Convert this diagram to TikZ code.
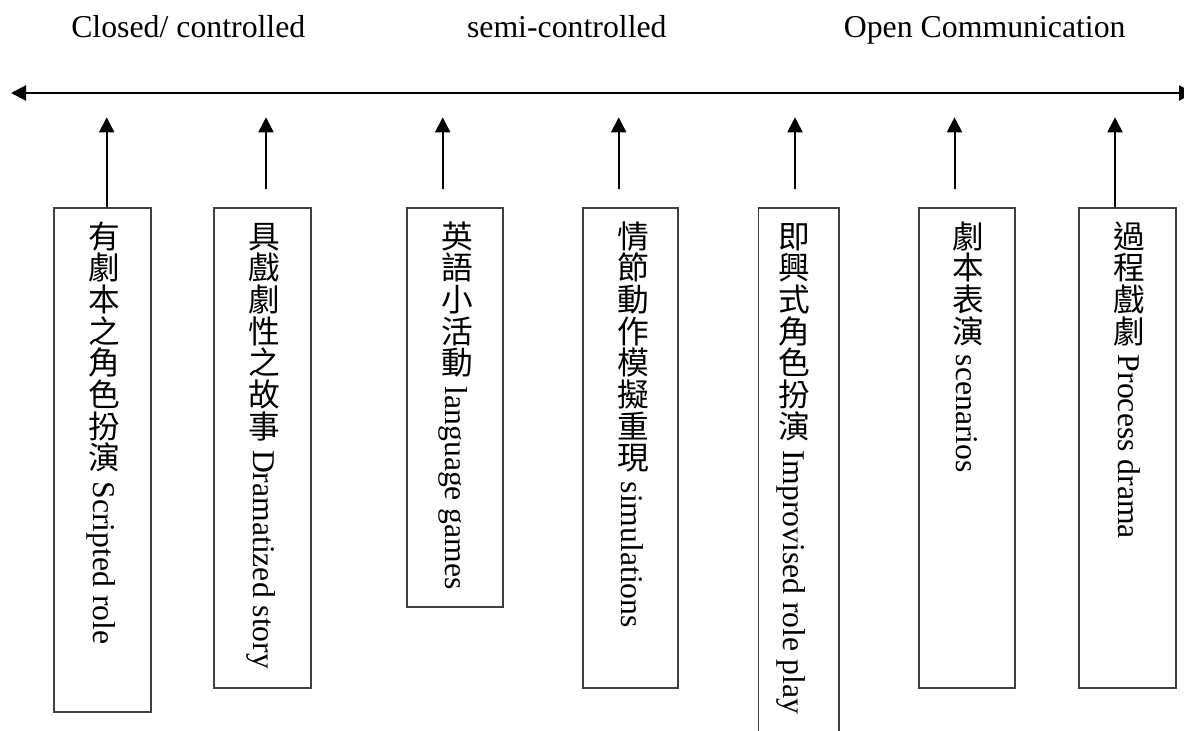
\documentclass[tikz,border=0pt]{standalone}
\usepackage{graphicx}
\usepackage{fontspec}
\setmainfont{Liberation Serif}
\newfontfamily\cjk{Noto Sans CJK TC}
\usetikzlibrary{arrows.meta}
\newcommand\vc[1]{\raisebox{-0.15em}{\rotatebox{90}{\rule[-.12em]{0pt}{1em}\smash{\cjk #1}}}}
\tikzset{
  boxst/.style={draw=black!75, line width=1.8pt, inner sep=0pt, fill=none},
  vtext/.style={rotate=-90, anchor=base west, inner sep=0pt, font=\fontsize{31.7pt}{38pt}\selectfont},
  toplabel/.style={anchor=base, inner sep=0pt, font=\fontsize{31.8pt}{38pt}\selectfont},
  arr/.style={line width=2pt, -{Triangle[length=15pt,width=15pt]}},
  darr/.style={line width=2pt, {Triangle[length=15pt,width=15pt]}-{Triangle[length=15pt,width=15pt]}}
}
\begin{document}
\begin{tikzpicture}[x=1pt,y=-1pt]
\clip (0,0) rectangle (1184,731);
\fill[white] (0,0) rectangle (1184,731);

% top labels
\node[toplabel] (lab1) at (188.3,37.5) {Closed/ controlled};
\node[toplabel] (lab2) at (566.8,37.5) {semi-controlled};
\node[toplabel] (lab3) at (984.7,37.5) {Open Communication};

% main axis
\coordinate (axL) at (11,93);
\coordinate (axR) at (1194,93);
\draw[darr] (axL) -- (axR);

% boxes
\node[boxst, minimum width=96.7pt, minimum height=504.3pt] (b1) at (102.35,460.15) {};
\node[boxst, minimum width=96.4pt, minimum height=480.3pt] (b2) at (262.5,448.15) {};
\node[boxst, minimum width=96pt,   minimum height=399.3pt] (b3) at (454.7,407.65) {};
\node[boxst, minimum width=95.6pt, minimum height=480.3pt] (b4) at (630.5,448.15) {};
\node[boxst, minimum width=80.5pt, minimum height=562pt]   (b5) at (798.75,489) {};
\node[boxst, minimum width=96.3pt, minimum height=480.3pt] (b6) at (967.15,448.15) {};
\node[boxst, minimum width=96.7pt, minimum height=480.3pt] (b7) at (1127.35,448.15) {};

% vertical texts
\node[vtext] (l1) at (93.6,220) {\vc{有}\vc{劇}\vc{本}\vc{之}\vc{角}\vc{色}\vc{扮}\vc{演} Scripted role};
\node[vtext] (l2) at (253.6,220) {\vc{具}\vc{戲}\vc{劇}\vc{性}\vc{之}\vc{故}\vc{事} Dramatized story};
\node[vtext] (l3) at (445.8,220) {\vc{英}\vc{語}\vc{小}\vc{活}\vc{動} language games};
\node[vtext] (l4) at (621.9,220) {\vc{情}\vc{節}\vc{動}\vc{作}\vc{模}\vc{擬}\vc{重}\vc{現} simulations};
\node[vtext] (l5) at (783,220) {\vc{即}\vc{興}\vc{式}\vc{角}\vc{色}\vc{扮}\vc{演} Improvised role play};
\node[vtext] (l6) at (956.9,220) {\vc{劇}\vc{本}\vc{表}\vc{演} scenarios};
\node[vtext] (l7) at (1118.6,220) {\vc{過}\vc{程}\vc{戲}\vc{劇} Process drama};

% arrow tips and free ends
\coordinate (t1) at (106.7,117.3);
\coordinate (t2) at (266,117.3);   \coordinate (s2) at (266,189.3);
\coordinate (t3) at (442.7,117.3); \coordinate (s3) at (442.7,189.3);
\coordinate (t4) at (618.7,117.3); \coordinate (s4) at (618.7,189.3);
\coordinate (t5) at (795,117.3);   \coordinate (s5) at (795,189.3);
\coordinate (t6) at (954.5,117.3); \coordinate (s6) at (954.5,189.3);
\coordinate (t7) at (1115,117.3);

\draw[arr] (b1.north -| t1) -- (t1);
\draw[arr] (s2) -- (t2);
\draw[arr] (s3) -- (t3);
\draw[arr] (s4) -- (t4);
\draw[arr] (s5) -- (t5);
\draw[arr] (s6) -- (t6);
\draw[arr] (b7.north -| t7) -- (t7);
\end{tikzpicture}
\end{document}
